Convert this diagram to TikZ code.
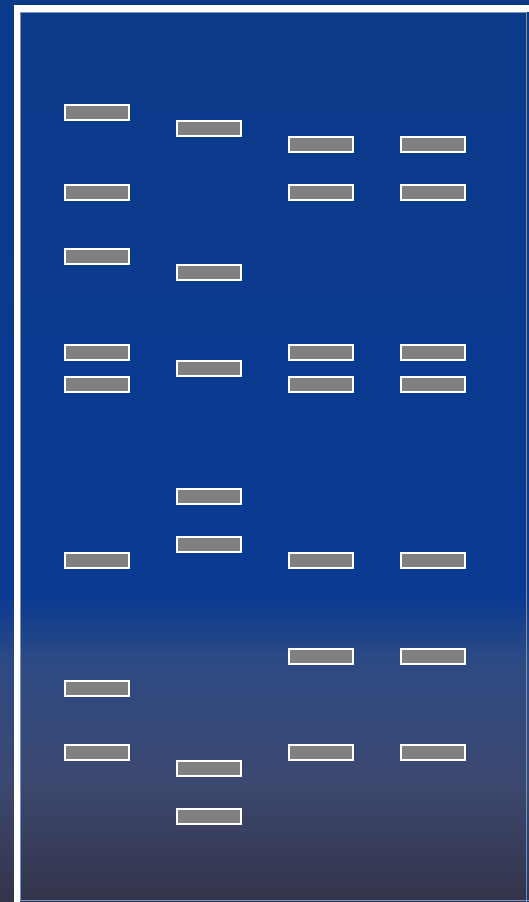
\documentclass[tikz,border=0pt]{standalone}
\usetikzlibrary{positioning}
\definecolor{GelBlue}{HTML}{0B3A8A}
\definecolor{GelBlueLow}{HTML}{0A3A92}
\definecolor{GelSlate}{HTML}{2D4A84}
\definecolor{GelDusk}{HTML}{3C4870}
\definecolor{GelDark}{HTML}{34344A}
\definecolor{BandGray}{HTML}{808080}
\tikzset{
    % Gel band style
    band/.style={
        rectangle,
        draw=white,
        fill=BandGray,
        line width=2pt,
        minimum width=64pt,
        minimum height=15pt,
        inner sep=0pt
    },
    % Panel edge
    paneledge/.style={
        draw=white!45!GelBlue,
        line width=0.8pt
    }
}
\begin{document}
\begin{tikzpicture}[x=1pt, y=-1pt]
    \useasboundingbox (0,0) rectangle (529,902);

    % Background gradient
    \shade[top color=GelBlue, bottom color=GelBlueLow] (0,0) rectangle (529,596);
    \shade[top color=GelBlueLow, bottom color=GelSlate] (0,595) rectangle (529,661);
    \shade[top color=GelSlate, bottom color=GelDusk] (0,660) rectangle (529,781);
    \shade[top color=GelDusk, bottom color=GelDark] (0,780) rectangle (529,902);

    % White frame (top and left)
    \fill[white] (14,5) rectangle (529,12);
    \fill[white] (14,5) rectangle (20,902);
    \draw[paneledge] (20.4,12.4) -- (526,12.4) -- (526,902);
    \draw[paneledge] (20.4,12.4) -- (20.4,900) -- (529,900);

    % Lane 1
    \foreach \y [count=\i] in {112,192,256,352,384,560,688,752}
        \node[band] (a\i) at (97,\y) {};
    % Lane 2
    \foreach \y [count=\i] in {128,272,368,496,544,768,816}
        \node[band] (b\i) at (209,\y) {};
    % Lane 3
    \foreach \y [count=\i] in {144,192,352,384,560,656,752}
        \node[band] (c\i) at (321,\y) {};
    % Lane 4
    \foreach \y [count=\i] in {144,192,352,384,560,656,752}
        \node[band] (d\i) at (433,\y) {};
\end{tikzpicture}
\end{document}
